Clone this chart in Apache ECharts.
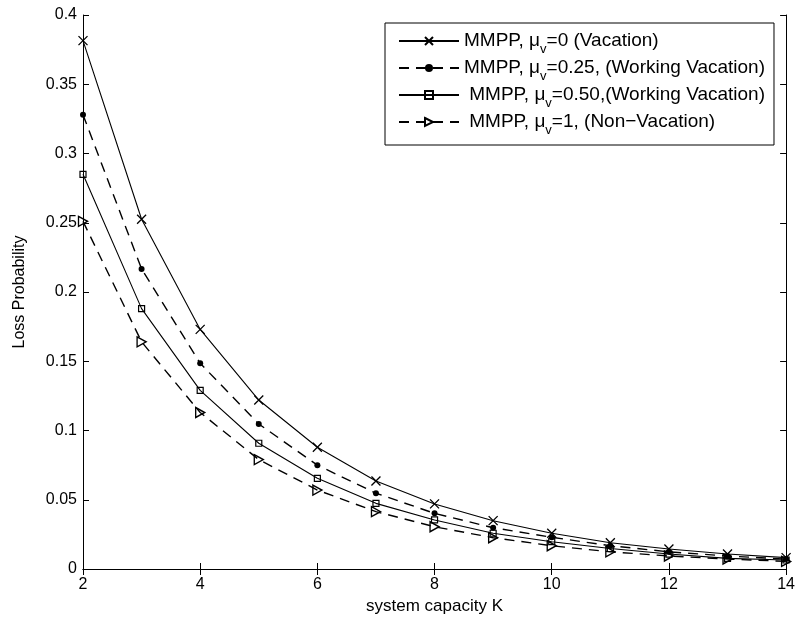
<!DOCTYPE html>
<html>
<head>
<meta charset="utf-8">
<script src="https://cdn.jsdelivr.net/npm/echarts@6/dist/echarts.min.js"></script>
<style>
html,body{margin:0;padding:0;background:#fff;}
#chart{width:798px;height:621px;}
</style>
</head>
<body>
<div id="chart"></div>
<script>
const capacities = [2, 3, 4, 5, 6, 7, 8, 9, 10, 11, 12, 13, 14];
const seriesNames = ['mu0', 'mu025', 'mu050', 'mu1'];
const legendLabels = [
  'MMPP, μ{s|v}=0 (Vacation)',
  'MMPP, μ{s|v}=0.25, (Working Vacation)',
  ' MMPP, μ{s|v}=0.50,(Working Vacation)',
  ' MMPP, μ{s|v}=1, (Non−Vacation)'
];
const lossMu0   = [0.3815, 0.2525, 0.173, 0.122, 0.0879, 0.0635, 0.047, 0.0349, 0.0258, 0.019, 0.0144, 0.0108, 0.0082];
const lossMu025 = [0.328, 0.2166, 0.1485, 0.1047, 0.075, 0.0547, 0.0402, 0.0298, 0.0229, 0.0168, 0.0124, 0.0094, 0.0072];
const lossMu050 = [0.285, 0.188, 0.129, 0.0908, 0.0655, 0.0474, 0.0354, 0.0258, 0.0197, 0.0148, 0.0108, 0.0077, 0.0065];
const lossMu1   = [0.251, 0.164, 0.113, 0.079, 0.057, 0.0414, 0.0305, 0.0226, 0.0168, 0.0124, 0.0094, 0.0072, 0.0055];
const yTicks = ['0', '0.05', '0.1', '0.15', '0.2', '0.25', '0.3', '0.35', '0.4'];

const FONT = 'Liberation Sans, Arial, Helvetica, sans-serif';
const pair = (arr) => capacities.map((c, i) => [c, arr[i]]);
const labelMap = {};
seriesNames.forEach((n, i) => labelMap[n] = legendLabels[i]);

const chart = echarts.init(document.getElementById('chart'), null, {renderer: 'canvas'});

const axisCommon = {
  axisLine: {show: true, lineStyle: {color: '#000', width: 1}},
  axisTick: {show: true, inside: true, length: 6, lineStyle: {color: '#000', width: 1}},
  splitLine: {show: false}
};
const CLEAR = 'rgba(255,255,255,0)';

const option = {
  backgroundColor: '#fff',
  animation: false,
  grid: {left: 83, right: 11, top: 15, bottom: 52, containLabel: false},
  legend: {
    orient: 'vertical',
    left: 385,
    top: 23,
    data: seriesNames,
    itemWidth: 60,
    itemHeight: 10,
    itemGap: 2,
    padding: [8, 9, 8, 13],
    borderColor: '#000',
    borderWidth: 1,
    backgroundColor: '#fff',
    formatter: (name) => labelMap[name],
    textStyle: {
      color: '#000', fontFamily: FONT, fontSize: 19, lineHeight: 20,
      rich: {
        s: {fontSize: 13, fontFamily: FONT, color: '#000', verticalAlign: 'bottom', lineHeight: 12, padding: [0, 0, -5, 0]}
      }
    }
  },
  xAxis: [
    Object.assign({}, axisCommon, {
      type: 'value', min: 2, max: 14, interval: 2,
      name: 'system capacity K', nameLocation: 'middle', nameGap: 27,
      nameTextStyle: {color: '#000', fontFamily: FONT, fontSize: 17},
      axisLabel: {color: '#000', fontFamily: FONT, fontSize: 16, margin: 8}
    }),
    Object.assign({}, axisCommon, {
      type: 'value', min: 2, max: 14, interval: 2, position: 'top',
      axisLabel: {show: false}
    })
  ],
  yAxis: [
    Object.assign({}, axisCommon, {
      type: 'value', min: 0, max: 0.4, interval: 0.05,
      name: 'Loss Probability', nameLocation: 'middle', nameGap: 55,
      nameTextStyle: {color: '#000', fontFamily: FONT, fontSize: 16},
      axisLabel: {
        color: '#000', fontFamily: FONT, fontSize: 16, margin: 6,
        formatter: (v) => yTicks[Math.round(v / 0.05)]
      }
    }),
    Object.assign({}, axisCommon, {
      type: 'value', min: 0, max: 0.4, interval: 0.05, position: 'right',
      axisLabel: {show: false}
    })
  ],
  series: [
    {
      name: seriesNames[0], type: 'line', data: pair(lossMu0),
      symbol: 'path://M0,0L10,10M10,0L0,10', symbolSize: 9, showSymbol: true,
      lineStyle: {color: '#000', width: 1.1, type: 'solid'},
      itemStyle: {color: '#000', borderColor: '#000', borderWidth: 1.3}
    },
    {
      name: seriesNames[1], type: 'line', data: pair(lossMu025),
      symbol: 'circle', symbolSize: 6,
      lineStyle: {color: '#000', width: 1.4, type: [10, 7]},
      itemStyle: {color: '#000', borderColor: '#000', borderWidth: 0}
    },
    {
      name: seriesNames[2], type: 'line', data: pair(lossMu050),
      symbol: 'rect', symbolSize: 6,
      lineStyle: {color: '#000', width: 1.1, type: 'solid'},
      itemStyle: {color: CLEAR, borderColor: '#000', borderWidth: 1.2}
    },
    {
      name: seriesNames[3], type: 'line', data: pair(lossMu1),
      symbol: 'path://M0,0L10,5L0,10Z', symbolSize: [9, 10],
      lineStyle: {color: '#000', width: 1.4, type: [10, 7]},
      itemStyle: {color: CLEAR, borderColor: '#000', borderWidth: 1.4}
    }
  ]
};
chart.setOption(option);
</script>
</body>
</html>
